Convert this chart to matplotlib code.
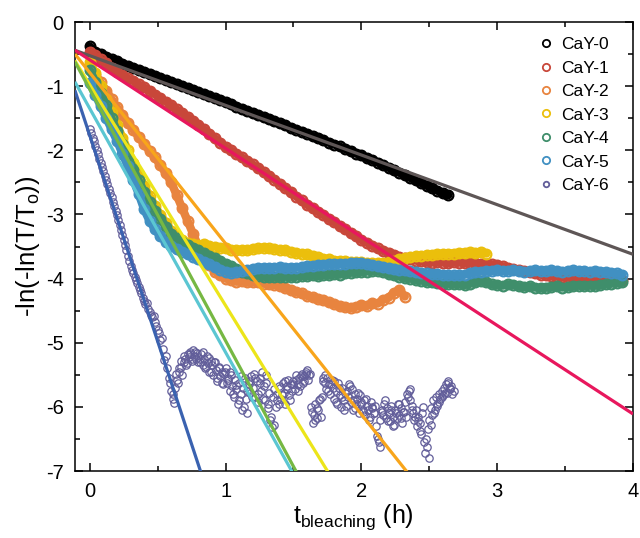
import numpy as np
import matplotlib
matplotlib.use("Agg")
import matplotlib.pyplot as plt
from matplotlib.ticker import MultipleLocator

plt.rcParams['font.family'] = ['Liberation Sans', 'DejaVu Sans']
plt.rcParams['mathtext.fontset'] = 'custom'
plt.rcParams['mathtext.rm'] = 'Liberation Sans'
plt.rcParams['mathtext.it'] = 'Liberation Sans:italic'
plt.rcParams['axes.unicode_minus'] = False

# series labels and colours
labels = ["CaY-0", "CaY-1", "CaY-2", "CaY-3", "CaY-4", "CaY-5", "CaY-6"]
data_colors = ["#000000", "#c8473a", "#e8843f", "#ebbf0c", "#3f8e6b", "#4190c2", "#625e9a"]
fit_colors = ["#5e5656", "#e8175d", "#f8a51b", "#ece51a", "#76b843", "#5bc6d2", "#3a62b0"]

# linear fits  y = a + b*t
fit_a = [-0.525, -0.59, -0.79, -0.98, -1.05, -1.35, -1.77]
fit_b = [-0.774, -1.38, -2.664, -3.44, -3.92, -3.80, -6.42]
fit_t = [-0.11, 4.0]

# measured curves, sampled every 0.04 h (CaY-6 every 0.01 h)
y0 = [-0.38, -0.46, -0.50, -0.54, -0.58, -0.61, -0.65, -0.68, -0.71, -0.74,
      -0.78, -0.81, -0.84, -0.87, -0.91, -0.94, -0.97, -1.00, -1.03, -1.06,
      -1.09, -1.12, -1.16, -1.19, -1.22, -1.25, -1.28, -1.32, -1.35, -1.38,
      -1.42, -1.45, -1.48, -1.51, -1.55, -1.58, -1.61, -1.65, -1.68, -1.71,
      -1.74, -1.78, -1.81, -1.84, -1.88, -1.91, -1.94, -1.98, -2.01, -2.05,
      -2.08, -2.12, -2.15, -2.19, -2.23, -2.27, -2.31, -2.35, -2.39, -2.43,
      -2.47, -2.51, -2.55, -2.59, -2.63, -2.67, -2.70]

y1 = [-0.47, -0.52, -0.58, -0.64, -0.71, -0.78, -0.83, -0.88, -0.92, -0.97,
      -1.02, -1.07, -1.13, -1.19, -1.24, -1.30, -1.36, -1.42, -1.48, -1.54,
      -1.60, -1.67, -1.74, -1.81, -1.88, -1.95, -2.00, -2.06, -2.11, -2.17,
      -2.22, -2.28, -2.34, -2.40, -2.46, -2.52, -2.59, -2.65, -2.72, -2.78,
      -2.85, -2.90, -2.96, -3.01, -3.07, -3.12, -3.18, -3.23, -3.29, -3.34,
      -3.40, -3.44, -3.49, -3.53, -3.57, -3.60, -3.63, -3.66, -3.68, -3.70,
      -3.72, -3.73, -3.74, -3.75, -3.74, -3.75, -3.76, -3.74, -3.75, -3.76,
      -3.75, -3.76, -3.77, -3.77, -3.78, -3.79, -3.81, -3.83, -3.85, -3.86,
      -3.88, -3.90, -3.92, -3.94, -3.95, -3.96, -3.97, -3.98, -3.97, -3.99,
      -3.99, -4.00, -3.99, -4.00, -4.01, -4.00, -4.01, -4.02, -4.02]

y2 = [-0.70, -0.82, -0.94, -1.07, -1.20, -1.33, -1.45, -1.57, -1.68, -1.79,
      -1.90, -2.01, -2.11, -2.23, -2.36, -2.50, -2.70, -2.90, -3.10, -3.30,
      -3.50, -3.66, -3.79, -3.89, -3.95, -4.00, -4.02, -4.05, -4.04, -4.06,
      -4.06, -4.05, -4.08, -4.09, -4.10, -4.12, -4.15, -4.18, -4.21, -4.23,
      -4.27, -4.29, -4.32, -4.34, -4.37, -4.40, -4.43, -4.45, -4.46, -4.44,
      -4.41, -4.43, -4.38, -4.39, -4.33, -4.30, -4.22, -4.18, -4.28]

y3 = [-0.62, -0.80, -1.00, -1.20, -1.40, -1.60, -1.80, -2.00, -2.19, -2.37,
      -2.55, -2.71, -2.87, -3.01, -3.13, -3.25, -3.33, -3.40, -3.44, -3.46,
      -3.47, -3.46, -3.49, -3.50, -3.52, -3.53, -3.55, -3.56, -3.55, -3.56,
      -3.54, -3.53, -3.52, -3.53, -3.54, -3.55, -3.56, -3.58, -3.60, -3.61,
      -3.62, -3.65, -3.67, -3.69, -3.70, -3.72, -3.72, -3.73, -3.74, -3.74,
      -3.74, -3.75, -3.76, -3.76, -3.75, -3.74, -3.72, -3.70, -3.68, -3.66,
      -3.65, -3.64, -3.63, -3.63, -3.62, -3.62, -3.61, -3.61, -3.60, -3.60,
      -3.59, -3.60, -3.59, -3.61]

y4 = [-0.75, -0.93, -1.11, -1.30, -1.50, -1.70, -1.90, -2.10, -2.29, -2.47,
      -2.65, -2.80, -2.94, -3.07, -3.19, -3.30, -3.37, -3.43, -3.48, -3.52,
      -3.56, -3.60, -3.64, -3.68, -3.73, -3.77, -3.81, -3.85, -3.89, -3.92,
      -3.94, -3.96, -3.97, -3.98, -3.97, -3.98, -3.97, -3.98, -3.97, -3.96,
      -3.96, -3.95, -3.96, -3.94, -3.95, -3.93, -3.94, -3.92, -3.91, -3.90,
      -3.90, -3.89, -3.88, -3.88, -3.90, -3.93, -3.95, -3.97, -3.99, -4.00,
      -4.02, -4.03, -4.05, -4.06, -4.07, -4.08, -4.08, -4.09, -4.09, -4.10,
      -4.08, -4.06, -4.04, -4.06, -4.09, -4.10, -4.11, -4.09, -4.10, -4.12,
      -4.13, -4.12, -4.14, -4.15, -4.14, -4.13, -4.12, -4.14, -4.13, -4.12,
      -4.11, -4.12, -4.11, -4.11, -4.10, -4.09, -4.08, -4.07, -4.06]

y5 = [-0.95, -1.13, -1.31, -1.49, -1.67, -1.85, -2.05, -2.25, -2.46, -2.68,
      -2.92, -3.10, -3.23, -3.34, -3.43, -3.49, -3.54, -3.58, -3.62, -3.66,
      -3.70, -3.74, -3.78, -3.82, -3.86, -3.89, -3.91, -3.90, -3.88, -3.86,
      -3.85, -3.84, -3.83, -3.84, -3.83, -3.82, -3.84, -3.83, -3.83, -3.82,
      -3.81, -3.80, -3.79, -3.79, -3.78, -3.78, -3.77, -3.77, -3.76, -3.76,
      -3.76, -3.77, -3.79, -3.81, -3.82, -3.84, -3.85, -3.86, -3.87, -3.88,
      -3.90, -3.91, -3.92, -3.93, -3.93, -3.94, -3.95, -3.95, -3.95, -3.94,
      -3.92, -3.90, -3.89, -3.88, -3.88, -3.87, -3.88, -3.88, -3.87, -3.88,
      -3.89, -3.88, -3.87, -3.88, -3.88, -3.87, -3.88, -3.89, -3.88, -3.87,
      -3.88, -3.88, -3.89, -3.88, -3.89, -3.90, -3.91, -3.92, -3.94]

y6 = [-1.67, -1.73, -1.80, -1.86, -1.93, -2.00, -2.06, -2.13, -2.20, -2.26,
      -2.33, -2.40, -2.46, -2.53, -2.60, -2.66, -2.73, -2.80, -2.87, -2.94,
      -3.01, -3.08, -3.16, -3.24, -3.32, -3.40, -3.48, -3.56, -3.64, -3.72,
      -3.80, -3.86, -3.92, -3.97, -4.02, -4.07, -4.13, -4.18, -4.23, -4.30,
      -4.35, -4.40, -4.38, -4.47, -4.52, -4.56, -4.60, -4.58, -4.68, -4.74,
      -4.80, -4.85, -4.95, -4.92, -5.10, -5.27, -5.20, -5.40, -5.55, -5.62,
      -5.75, -5.88, -5.94, -5.70, -5.58, -5.62, -5.45, -5.38, -5.50, -5.30,
      -5.25, -5.35, -5.18, -5.22, -5.15, -5.28, -5.12, -5.20, -5.25, -5.16,
      -5.22, -5.30, -5.18, -5.35, -5.25, -5.40, -5.20, -5.32, -5.45, -5.28,
      -5.35, -5.50, -5.30, -5.42, -5.60, -5.38, -5.52, -5.45, -5.65, -5.48,
      -5.40, -5.62, -5.55, -5.75, -5.50, -5.68, -5.85, -5.58, -5.72, -5.95,
      -5.62, -5.80, -6.05, -5.70, -5.55, -5.88, -6.10, -5.65, -5.78, -5.52,
      -5.70, -5.48, -5.85, -5.60, -5.92, -5.55, -5.75, -5.45, -5.68, -5.90,
      -5.62, -6.02, -5.78, -6.20, -6.32, -5.85, -5.72, -6.00, -5.80, -5.95,
      -5.70, -5.88, -5.62, -5.78, -5.95, -5.68, -5.58, -5.82, -5.65, -5.75,
      -5.60, -5.72, -5.50, -5.65, -5.55, -5.68, -5.48, -5.62, -5.52, -5.45,
      -5.42, -5.58, -5.48, -6.00, -6.25, -6.12, -5.95, -6.18, -6.05, -5.90,
      -6.15, -5.85, -5.60, -5.50, -5.72, -5.55, -5.65, -5.80, -5.58, -5.70,
      -5.88, -5.75, -5.95, -5.62, -5.82, -6.00, -5.70, -5.90, -5.78, -5.98,
      -5.85, -5.65, -5.92, -5.72, -6.05, -5.80, -5.95, -5.88, -6.10, -5.82,
      -5.95, -6.08, -5.90, -6.12, -5.98, -6.05, -6.15, -5.92, -6.02, -6.10,
      -5.98, -6.30, -6.50, -6.55, -6.20, -6.05, -6.12, -5.95, -6.18, -6.02,
      -6.10, -6.22, -5.98, -6.15, -6.28, -6.05, -6.18, -5.95, -6.12, -6.02,
      -6.25, -6.08, -5.92, -6.15, -5.85, -5.75, -5.72, -5.98, -6.10, -6.20,
      -6.05, -6.30, -6.15, -6.25, -6.42, -6.10, -6.55, -6.72, -6.62, -6.35,
      -6.20, -6.02, -6.12, -5.90, -6.05, -5.85, -5.95, -5.80, -5.88, -5.75,
      -5.82, -5.70, -5.65, -5.78, -5.62, -5.72, -5.68, -5.80, -5.75]

# second CaY-6 scan through the noisy tail (from 0.615 h, every 0.02 h)
y6b = [-5.80, -5.48, -5.40, -5.28, -5.20, -5.32, -5.18, -5.25, -5.14, -5.30,
       -5.26, -5.15, -5.38, -5.24, -5.46, -5.30, -5.55, -5.40, -5.62, -5.45,
       -5.58, -5.45, -5.80, -5.66, -5.90, -5.52, -6.00, -5.75, -5.60, -5.85,
       -5.55, -5.80, -5.62, -5.88, -5.50, -5.95, -6.15, -6.28, -5.90, -5.68,
       -5.82, -5.60, -5.72, -5.90, -5.65, -5.58, -5.75, -5.52, -5.60, -5.48,
       -5.50, -6.08, -6.20, -6.02, -5.88, -5.55, -5.62, -5.75, -5.65, -5.60,
       -5.92, -5.70, -5.85, -6.05, -5.75, -5.68, -5.90, -6.02, -5.78, -5.92,
       -6.05, -5.88, -6.20, -6.00, -6.10, -6.45, -6.62, -6.08, -5.90, -6.22,
       -6.05, -6.30, -6.10, -5.95, -6.18, -6.08, -5.80, -5.90, -6.05, -6.15,
       -6.22, -6.38, -6.00, -6.50, -6.80, -6.28, -6.10, -5.98, -5.92, -5.85,
       -5.78, -5.60, -5.70]

series = [y0, y1, y2, y3, y4, y5, y6]
steps = [0.04, 0.04, 0.04, 0.04, 0.04, 0.04, 0.01]

fig = plt.figure(figsize=(6.4, 5.38), dpi=100)
ax = fig.add_axes([0.117, 0.1245, 0.872, 0.8345])

for i, y in enumerate(series):
    t = np.arange(len(y)) * steps[i]
    if i == 6:
        ms, mew = 5.3, 0.9
    else:
        ms, mew = 7.0, 1.6
        # dense scan: the overlapping rings read as a solid band
        ax.plot(t, y, color=data_colors[i], lw=6.0, zorder=2,
                solid_capstyle='round', solid_joinstyle='round')
    ax.plot(t, y, linestyle='none', marker='o', ms=ms, mew=mew,
            mfc='none', mec=data_colors[i], label=labels[i], zorder=2)

t6b = 0.615 + np.arange(len(y6b)) * 0.02
ax.plot(t6b, y6b, linestyle='none', marker='o', ms=5.3, mew=0.9,
        mfc='none', mec=data_colors[6], zorder=2)

for i in range(len(fit_a)):
    yf = [fit_a[i] + fit_b[i] * t for t in fit_t]
    ax.plot(fit_t, yf, color=fit_colors[i], lw=2.3, zorder=3,
            solid_capstyle='butt')

ax.set_xlim(-0.11, 4.0)
ax.set_ylim(-7, 0)
ax.xaxis.set_major_locator(MultipleLocator(1))
ax.xaxis.set_minor_locator(MultipleLocator(0.5))
ax.yaxis.set_major_locator(MultipleLocator(1))
ax.yaxis.set_minor_locator(MultipleLocator(0.5))
ax.tick_params(which='both', direction='in', top=True, right=True,
               width=1.1, labelsize=14.5, pad=8)
ax.tick_params(which='major', length=6)
ax.tick_params(which='minor', length=3.3)
for s in ax.spines.values():
    s.set_linewidth(1.1)

ax.set_xlabel(r't$_{\mathrm{bleaching}}$ (h)', fontsize=18, labelpad=1)
ax.set_ylabel(r'-ln(-ln(T/T$_{\mathrm{o}}$))', fontsize=18.5, labelpad=3)

leg = ax.legend(loc='upper right', bbox_to_anchor=(0.975, 0.99),
                frameon=False, fontsize=12.5, markerscale=0.75,
                handlelength=0.8, handletextpad=0.45, labelspacing=0.48,
                borderaxespad=0.2)
for h in leg.legend_handles:
    h.set_markeredgewidth(1.3)

fig.savefig("out.png", dpi=100)
